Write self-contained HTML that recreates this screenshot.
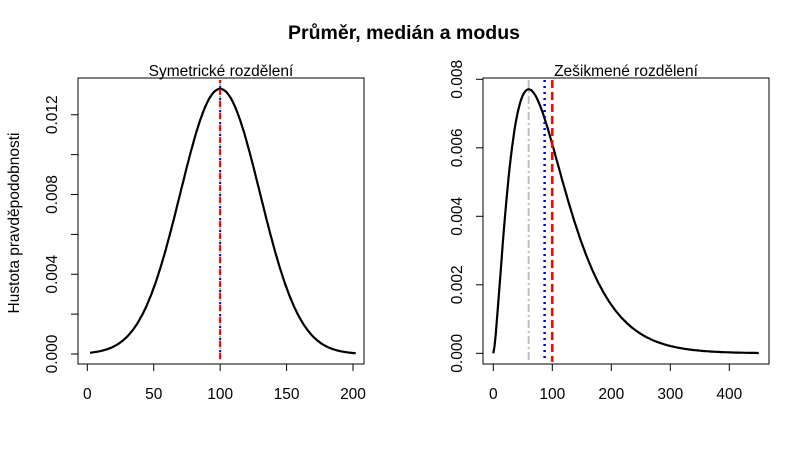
<!DOCTYPE html>
<html><head><meta charset="utf-8"><style>
body{margin:0;background:#fff}
svg text{font-family:"Liberation Sans",Arial,sans-serif;fill:#000}
</style></head><body>
<svg id="s" width="810" height="462" xmlns="http://www.w3.org/2000/svg">
<rect width="810" height="462" fill="#fff"/>
<text x="404" y="39" font-size="19.5" font-weight="bold" text-anchor="middle">Průměr, medián a modus</text>
<text x="221" y="76" font-size="15.5" text-anchor="middle">Symetrické rozdělení</text>
<text x="626" y="76" font-size="15.5" text-anchor="middle">Zešikmené rozdělení</text>
<text transform="translate(19,223) rotate(-90)" font-size="15.5" text-anchor="middle">Hustota pravděpodobnosti</text>
<rect x="78" y="78" width="286" height="286" fill="none" stroke="#000" stroke-width="1"/>
<rect x="483" y="78" width="286" height="286" fill="none" stroke="#000" stroke-width="1"/>
<g id="g" stroke="#000" fill="none"></g>
<g id="t" font-size="15.5"></g>
</svg>
<script>
var g=document.getElementById('g'),t=document.getElementById('t'),h='',tx='';
function lx(v){return 87.3+v*1.3285}
function ly(v){return 354-v/0.004*79.75}
[0,50,100,150,200].forEach(function(v){var x=lx(v);h+='<line x1="'+x+'" y1="364" x2="'+x+'" y2="371"/>';tx+='<text x="'+x+'" y="399" text-anchor="middle">'+v+'</text>';});
h+='<line x1="'+lx(0)+'" y1="364" x2="'+lx(200)+'" y2="364"/>';
for(var i=0;i<=6;i++){var y=ly(i*0.002);h+='<line x1="71" y1="'+y+'" x2="78" y2="'+y+'"/>';if(i%2==0)tx+='<text transform="translate(57,'+y+') rotate(-90)" text-anchor="middle">'+(i*0.002).toFixed(3)+'</text>';}
var p='';for(var x=2;x<=202;x+=1){var d=Math.exp(-Math.pow(x-100,2)/1800)/(30*2.50663);p+=(x==2?'M':'L')+lx(x).toFixed(1)+','+ly(d).toFixed(1);}
h+='<path d="'+p+'" stroke-width="2.2"/>';
var X=lx(100);
h+='<line x1="'+X+'" y1="80" x2="'+X+'" y2="362" stroke="#bebebe" stroke-width="2" stroke-dasharray="8,3,2,3"/>';
h+='<line x1="'+X+'" y1="80" x2="'+X+'" y2="362" stroke="#0000ff" stroke-width="2" stroke-dasharray="2,4"/>';
h+='<line x1="'+X+'" y1="80" x2="'+X+'" y2="362" stroke="#ff0000" stroke-width="2" stroke-dasharray="6,6" stroke-dashoffset="3"/>';
function rx(v){return 493.3+v*0.59}
function ry(v){return 353.3-v/0.002*68.5}
[0,100,200,300,400].forEach(function(v){var x=rx(v);h+='<line x1="'+x+'" y1="364" x2="'+x+'" y2="371"/>';tx+='<text x="'+x+'" y="399" text-anchor="middle">'+v+'</text>';});
h+='<line x1="'+rx(0)+'" y1="364" x2="'+rx(400)+'" y2="364"/>';
for(var i=0;i<=4;i++){var y=ry(i*0.002);h+='<line x1="476" y1="'+y+'" x2="483" y2="'+y+'"/>';tx+='<text transform="translate(462,'+y+') rotate(-90)" text-anchor="middle">'+(i*0.002).toFixed(3)+'</text>';}
p='';for(var x=0;x<=450;x+=2){var d=Math.pow(x,1.5)*Math.exp(-x/40)/(1.32934*Math.pow(40,2.5));p+=(x==0?'M':'L')+rx(x).toFixed(1)+','+ry(d).toFixed(1);}
h+='<path d="'+p+'" stroke-width="2.2"/>';
h+='<line x1="'+rx(60)+'" y1="80" x2="'+rx(60)+'" y2="362" stroke="#bebebe" stroke-width="2" stroke-dasharray="8,3,2,3"/>';
h+='<line x1="'+rx(87)+'" y1="80" x2="'+rx(87)+'" y2="362" stroke="#0000ff" stroke-width="2.5" stroke-dasharray="2,4"/>';
h+='<line x1="'+rx(100)+'" y1="80" x2="'+rx(100)+'" y2="362" stroke="#ff0000" stroke-width="2.5" stroke-dasharray="8,4"/>';
g.innerHTML=h;t.innerHTML=tx;
</script>
</body></html>
